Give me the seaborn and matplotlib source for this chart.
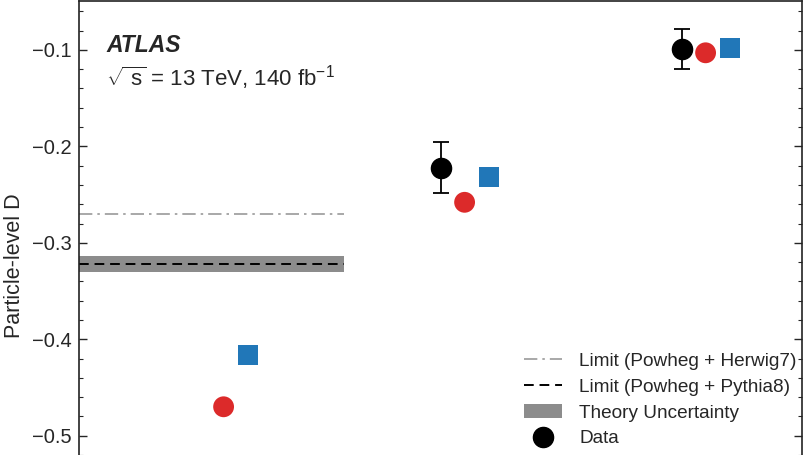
import numpy as np
import matplotlib
matplotlib.use('Agg')
import matplotlib.pyplot as plt
import seaborn as sns
import pandas as pd
from matplotlib.lines import Line2D
from matplotlib.patches import Patch

# values
groups = [0, 1, 2]
data_d = [np.nan, -0.222, -0.099]
data_err = [np.nan, 0.0266, 0.021]
red_d = [-0.470, -0.258, -0.103]
blue_d = [-0.416, -0.232, -0.098]
limit_herwig = -0.270
limit_pythia = -0.322
theory_band = [-0.3305, -0.3140]

sns.set_theme(style='ticks')
plt.rcParams['font.family'] = ['Liberation Sans', 'DejaVu Sans']
plt.rcParams['mathtext.fontset'] = 'custom'
plt.rcParams['mathtext.rm'] = 'Liberation Sans'
plt.rcParams['mathtext.it'] = 'Liberation Sans'

fig = plt.figure(figsize=(8.08, 4.55), dpi=100)
ax = fig.add_axes([79 / 808, 0.0, 723 / 808, 454 / 455])

red_df = pd.DataFrame({'x': np.array(groups) + 0.1, 'y': red_d})
blue_df = pd.DataFrame({'x': np.array(groups) + 0.2, 'y': blue_d})
sns.scatterplot(data=red_df, x='x', y='y', ax=ax, color='#dc2a2a', marker='o',
                s=15 ** 2, edgecolor='none', zorder=3)
sns.scatterplot(data=blue_df, x='x', y='y', ax=ax, color='#2177b8', marker='s',
                s=14.5 ** 2, edgecolor='none', zorder=3)
ax.errorbar(groups, data_d, yerr=data_err, fmt='o', color='black', ms=14.5,
            elinewidth=1.3, capsize=6, capthick=1.3, zorder=4)

ax.fill_between([-0.5, 0.6], theory_band[0], theory_band[1], color='#8c8c8c',
                lw=0, zorder=1)
ax.hlines(limit_pythia, -0.5, 0.6, color='black', ls=(0, (5, 3)), lw=1.4, zorder=2)
ax.hlines(limit_herwig, -0.5, 0.6, color='#9a9a9a', ls=(0, (8, 3, 1.5, 3)), lw=1.2, zorder=2)

ax.set_xlim(-0.5, 2.5)
ax.set_ylim(-0.5188, -0.0493)
ax.set_yticks([-0.5, -0.4, -0.3, -0.2, -0.1])
ax.set_yticklabels(['\u22120.5', '\u22120.4', '\u22120.3', '\u22120.2', '\u22120.1'])
ax.set_yticks(np.arange(-0.52, -0.04, 0.02), minor=True)
ax.set_xticks([])
ax.set_xlabel('')
ax.set_ylabel('Particle-level D', fontsize=15.5)
ax.yaxis.set_label_coords(-0.074, 0.418)
ax.tick_params(axis='y', which='both', direction='in', right=True, labelsize=14.5, pad=5)
ax.tick_params(axis='y', which='major', length=6, width=1)
ax.tick_params(axis='y', which='minor', length=3, width=0.8)
for side in ['left', 'right', 'top']:
    ax.spines[side].set_visible(True)
    ax.spines[side].set_color('#222222')
    ax.spines[side].set_linewidth(1.2)
ax.spines['bottom'].set_visible(False)

ax.text(0.038, 0.928, 'ATLAS', transform=ax.transAxes, fontsize=16.5,
        fontweight='bold', fontstyle='italic', va='top')
ax.text(0.038, 0.862, r'$\sqrt{\ \mathregular{s}}$ = 13 TeV, 140 fb$^{\mathregular{-1}}$',
        transform=ax.transAxes, fontsize=16, va='top')

handles = [
    Line2D([], [], color='#9a9a9a', ls=(0, (8, 3, 1.5, 3)), lw=1.2),
    Line2D([], [], color='black', ls=(0, (5, 3)), lw=1.4),
    Patch(facecolor='#8c8c8c', edgecolor='none'),
    Line2D([], [], color='black', marker='o', ls='none', ms=14.5),
]
labels = ['Limit (Powheg + Herwig7)', 'Limit (Powheg + Pythia8)',
          'Theory Uncertainty', 'Data']
ax.legend(handles, labels, loc='lower left', bbox_to_anchor=(0.605, 0.0),
          frameon=False, fontsize=13.7, handlelength=2.0, labelspacing=0.45,
          borderaxespad=0, handletextpad=0.9)

fig.savefig('out.png', dpi=100)
